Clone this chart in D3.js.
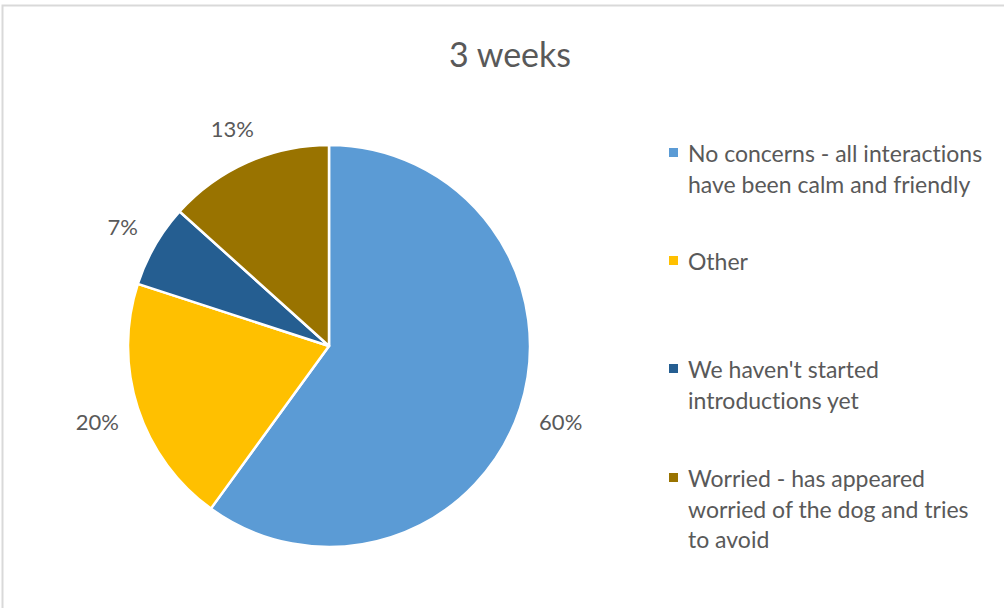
<!DOCTYPE html>
<html><head><meta charset="utf-8">
<script src="https://cdn.jsdelivr.net/npm/d3@7"></script>
<style>html,body{margin:0;padding:0;background:#fff;}svg{display:block;}text{font-variant-ligatures:none;font-feature-settings:"liga" 0,"clig" 0;}</style>
</head><body>
<svg id="chart" width="1004" height="608"></svg>
<script>
const title = "3 weeks";
const categories = [
  "No concerns - all interactions have been calm and friendly",
  "Other",
  "We haven't started introductions yet",
  "Worried - has appeared worried of the dog and tries to avoid"
];
const legendLines = [
  ["No concerns - all interactions", "have been calm and friendly"],
  ["Other"],
  ["We haven't started", "introductions yet"],
  ["Worried - has appeared", "worried of the dog and tries", "to avoid"]
];
const values = [9, 3, 1, 2];
const colors = ["#5b9bd5", "#ffc000", "#255e91", "#997300"];

const font = "Lato, 'Open Sans', sans-serif";
const svg = d3.select("#chart");
svg.append("rect").attr("x", 2.5).attr("y", 5.5).attr("width", 1010).attr("height", 620)
  .attr("fill", "#fff").attr("stroke", "#d9d9d9").attr("stroke-width", 2);

svg.append("text").attr("x", 510).attr("y", 53).attr("text-anchor", "middle")
  .attr("dominant-baseline", "central")
  .attr("font-family", font).attr("font-size", 34).attr("fill", "#595959").text(title);

const cx = 329, cy = 346, r = 201;
const total = d3.sum(values);
const pie = d3.pie().sort(null).value(d => d)(values);
const arc = d3.arc().innerRadius(0).outerRadius(r);
const g = svg.append("g").attr("transform", `translate(${cx},${cy})`);
g.selectAll("path").data(pie).join("path")
  .attr("d", arc).attr("fill", (d, i) => colors[i])
  .attr("stroke", "#fff").attr("stroke-width", 2.5).attr("stroke-linejoin", "round");

const fmt = v => Math.round(v / total * 100) + "%";
const labelR = 220;
g.selectAll("text.lbl").data(pie).join("text").attr("class", "lbl")
  .attr("font-family", font).attr("font-size", 22).attr("fill", "#595959")
  .attr("text-anchor", "middle").attr("dominant-baseline", "central")
  .text(d => fmt(d.value))
  .each(function (d) {
    const a = (d.startAngle + d.endAngle) / 2;
    const sx = Math.sin(a), sy = -Math.cos(a);
    const bb = this.getBBox();
    const hw = bb.width / 2, hh = 10;
    const dist = labelR + hw * Math.abs(sx) + hh * Math.abs(sy);
    d3.select(this).attr("x", dist * sx).attr("y", dist * sy);
  });

const legendRowsY = [153, 261, 369, 478];
const lineH = 30.5;
const lg = svg.append("g");
categories.forEach((c, i) => {
  const y0 = legendRowsY[i];
  lg.append("rect").attr("x", 669).attr("y", y0 - 5).attr("width", 9).attr("height", 9)
    .attr("fill", colors[i]);
  legendLines[i].forEach((ln, j) => {
    lg.append("text").attr("x", 688).attr("y", y0 + j * lineH)
      .attr("dominant-baseline", "central")
      .attr("font-family", font).attr("font-size", 23).attr("fill", "#595959").text(ln);
  });
});
</script>
</body></html>
